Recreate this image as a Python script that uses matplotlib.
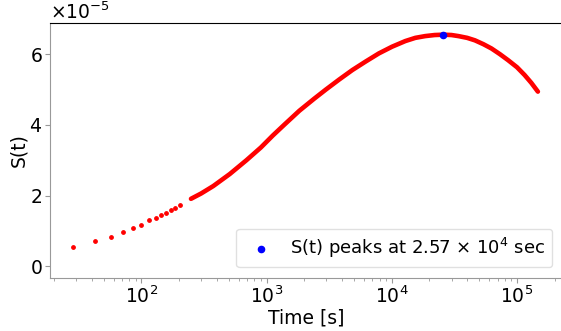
# S(t) curve vs time, log x axis, peak marked

import numpy as np
import matplotlib
matplotlib.use("Agg")
import matplotlib.pyplot as plt

plt.rcParams["axes.formatter.use_mathtext"] = True

# early (sparse) samples
t_early = [28.4, 43, 57, 71, 86, 100, 115, 130, 143, 157, 171, 186, 202]
s_early = [0.54, 0.71, 0.84, 0.98, 1.08, 1.18, 1.30, 1.36, 1.44, 1.51, 1.58, 1.66, 1.73]

# dense part of the curve
t_dense = [249, 300, 375, 508, 690, 900, 1122, 1400, 1828, 2400, 2979, 3795,
           4842, 6180, 7880, 10050, 12840, 15420, 18500, 22000, 25870, 30000,
           34050, 40000, 46150, 54000, 62530, 73000, 84860, 100000, 115000,
           130000, 146900]
s_dense = [1.91, 2.06, 2.27, 2.61, 3.00, 3.36, 3.70, 4.02, 4.40, 4.74, 5.00, 5.28,
           5.55, 5.79, 6.02, 6.21, 6.37, 6.46, 6.51, 6.54, 6.55, 6.54,
           6.51, 6.46, 6.39, 6.28, 6.16, 6.00, 5.83, 5.63, 5.41,
           5.19, 4.94]

t_peak = 2.57e4
s_peak = 6.55

scale = 1e-5
fs = 13.5

fig = plt.figure(figsize=(5.61, 3.31), dpi=100)
ax = fig.add_axes([0.0891, 0.160, 0.915, 0.7705])

ax.scatter(t_early, np.array(s_early) * scale, s=6, color="red", zorder=2)
ax.plot(t_dense, np.array(s_dense) * scale, color="red", lw=3.3,
        solid_capstyle="round", solid_joinstyle="round", zorder=2)
ax.scatter([t_peak], [s_peak * scale], s=20, color="blue", zorder=3,
           label=r"S(t) peaks at 2.57 $\times$ 10$^4$ sec")

ax.set_xscale("log")
ax.set_xlim(10 ** 1.27, 10 ** 5.37)
ax.set_ylim(-0.33 * scale, 6.88 * scale)

ax.tick_params(labelsize=fs, colors="black", pad=2)
ax.tick_params(axis="both", which="both", color="0.6")
ax.yaxis.get_offset_text().set_fontsize(fs)

ax.spines["left"].set_color("0.6")
ax.spines["bottom"].set_color("0.6")
ax.spines["top"].set_color("black")
ax.spines["right"].set_visible(False)

ax.set_xlabel("Time [s]", fontsize=fs, labelpad=1)
ax.set_ylabel("S(t)", fontsize=fs, labelpad=1)

ax.legend(loc="lower right", fontsize=fs - 0.5, handletextpad=0.6,
          borderaxespad=0.6).get_frame().set_edgecolor("0.85")

fig.savefig("out.png", dpi=100)
